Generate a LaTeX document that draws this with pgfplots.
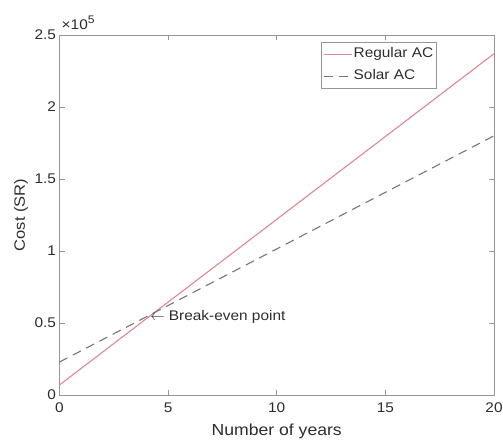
\documentclass[border=0pt]{standalone}
\usepackage{fontspec}
\setmainfont{Liberation Sans}[FakeStretch=1.1]
\usepackage{pgfplots}
\pgfplotsset{compat=1.18}
\definecolor{regac}{RGB}{224,132,152}
\definecolor{solac}{RGB}{118,118,118}
\definecolor{axgray}{RGB}{150,150,150}
\definecolor{txtgray}{RGB}{45,45,45}
\begin{document}
\begin{tikzpicture}
\begin{axis}[
  scale only axis,
  width=434.5pt, height=360pt,
  at={(0,0)}, anchor=south west,
  xmin=0, xmax=20, ymin=0, ymax=250000,
  xtick={0,5,10,15,20},
  ytick={0,50000,100000,150000,200000,250000},
  scaled y ticks=base 10:-5,
  ytick scale label code/.code={×10\raisebox{0.45em}{\fontsize{11}{12}\selectfont 5}},
  every y tick scale label/.style={at={(rel axis cs:0,1)}, anchor=south west, inner sep=0pt, xshift=2pt, yshift=5pt, font=\fontsize{14}{16}\selectfont, text=txtgray},
  yticklabels={0,0.5,1,1.5,2,2.5},
  tick align=inside,
  major tick length=5pt,
  axis line style={axgray, line width=0.6pt},
  every tick/.style={axgray, line width=0.6pt},
  tick label style={font=\fontsize{14}{16}\selectfont, text=txtgray},
  /pgf/number format/assume math mode=true,
  xticklabel style={yshift=-4pt},
  xlabel={Number of years},
  ylabel={Cost (SR)},
  xlabel style={font=\fontsize{16}{18}\selectfont, text=txtgray, at={([yshift=-40pt]axis description cs:0.5,0)}, anchor=base},
  ylabel style={font=\fontsize{15}{17}\selectfont, text=txtgray, at={([xshift=-34.5pt]axis description cs:0,0.5)}, anchor=base, rotate=0},
  legend style={at={(0.869,0.981)}, anchor=north east, draw=axgray, line width=0.6pt,
    font=\fontsize{14}{16}\selectfont, text=txtgray, inner xsep=2pt, inner ysep=1pt,
    row sep=0pt,
    nodes={text height=10pt, text depth=3pt, inner ysep=4.5pt, inner xsep=1.5pt}},
  legend cell align=left,
  legend image code/.code={\draw[#1] (0pt,0pt) -- (28pt,0pt);},
]
\addplot[regac, line width=1.1pt] coordinates {(0,7000) (20,237000)};
\addlegendentry{Regular AC}
\addplot[solac, line width=1.1pt, dash pattern=on 9pt off 6pt] coordinates {(0,22900) (20,180000)};
\addlegendentry{Solar AC}
\node[anchor=west, inner sep=0pt, text=txtgray, font=\fontsize{14}{16}\selectfont] at (axis cs:4.17,54000) {$\leftarrow$ Break-even point};
\end{axis}
\pgfresetboundingbox
\path[use as bounding box] (-59.5pt,-44pt) rectangle (443.5pt,395pt);
\end{tikzpicture}
\end{document}
